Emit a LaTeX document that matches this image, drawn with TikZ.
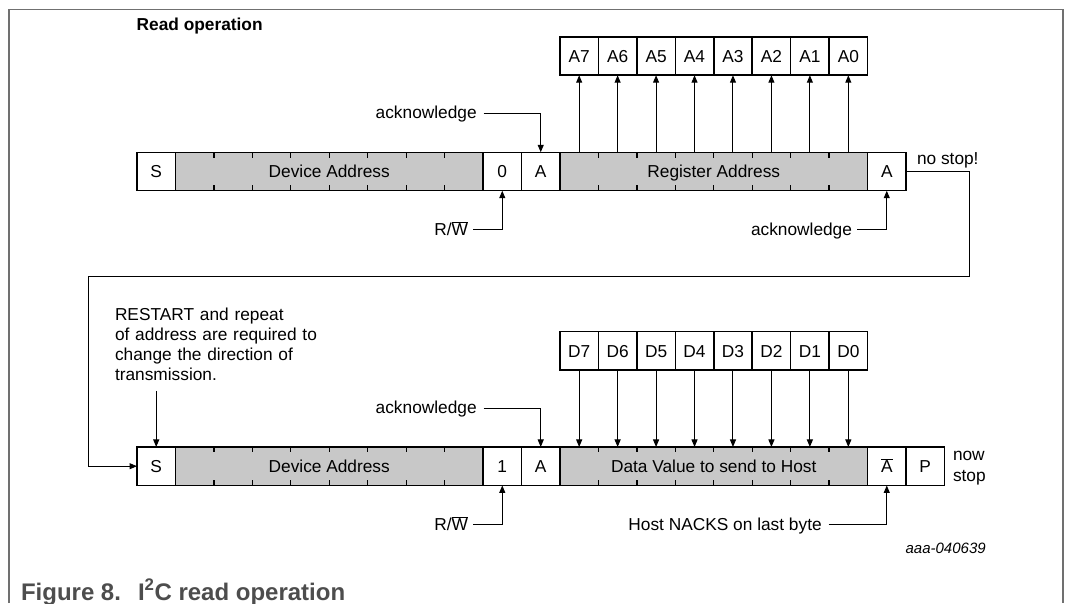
\documentclass[tikz,border=0pt]{standalone}
\usepackage{fontspec}
\setmainfont{Liberation Sans}
\usetikzlibrary{arrows.meta,calc}
\definecolor{fieldgray}{HTML}{C8C8C8}
\definecolor{framegray}{HTML}{707070}
\definecolor{capgray}{HTML}{4D4D4D}
\newcommand{\lbl}{\fontsize{17.3}{20.3}\selectfont}
\newcommand{\ovl}[1]{$\overline{\hbox{#1}}$}
\def\w{38.45}
\def\xo{137}
\begin{document}
\begin{tikzpicture}[x=1pt,y=-1pt,
  every node/.style={inner sep=0pt, outer sep=0pt, font=\lbl},
  cell/.style={draw, line width=1.5pt, fill=white, minimum width=38.45pt,
    minimum height=38.45pt, text height=12.4pt, text depth=0pt, anchor=west},
  field/.style={cell, fill=fieldgray, minimum width=307.6pt},
  tick/.style={line width=1.3pt},
  arr/.style={line width=1pt, -{Triangle[length=7.5pt,width=6pt]}},
]
\useasboundingbox (0,0) rectangle (1071,603);

% outer frame, open at the bottom
\draw[framegray, line width=1.3pt] (9,603) -- (9,9.3) -- (1063,9.3) -- (1063,603);

\node[anchor=base west, font=\lbl\bfseries] (title) at (136.7,30.5) {Read operation};

% ---- first transfer: device address + register address ----
\node[cell]  (S1)   at (\xo,171.5) {S};
\node[field] (DA1)  at ({\xo+\w},171.5) {Device Address};
\node[cell]  (RW1)  at ({\xo+9*\w},171.5) {0};
\node[cell]  (AK1)  at ({\xo+10*\w},171.5) {A};
\node[field] (REG1) at ({\xo+11*\w},171.5) {Register Address};
\node[cell]  (AK1b) at ({\xo+19*\w},171.5) {A};

\foreach \b [count=\i from 0] in {7,6,...,0}
  \node[cell] (a\b) at ({\xo+(11+\i)*\w},56) {A\b};
\foreach \b in {7,6,...,0}
  \draw[arr] (a\b.south |- REG1.north) -- (a\b.south);

\node[anchor=base east] (ack1t) at (476.7,118.3) {acknowledge};
\draw[arr] ($(ack1t.base east)+(7,-5)$) -| (AK1.north);
\node[anchor=base east] (rw1t) at (468,235) {R/\ovl{W}};
\draw[arr] ($(rw1t.base east)+(5,-5.7)$) -| (RW1.south);
\node[anchor=base east] (ack1bt) at (852,235) {acknowledge};
\draw[arr] ($(ack1bt.base east)+(5,-5.7)$) -| (AK1b.south);
\node[anchor=base west] (nostop) at (917,164) {no stop!};

% ---- second transfer: restart + data read ----
\node[cell]  (S2)    at (\xo,466.2) {S};
\node[field] (DA2)   at ({\xo+\w},466.2) {Device Address};
\node[cell]  (RW2)   at ({\xo+9*\w},466.2) {1};
\node[cell]  (AK2)   at ({\xo+10*\w},466.2) {A};
\node[field] (DATA2) at ({\xo+11*\w},466.2) {Data Value to send to Host};
\node[cell]  (NA2)   at ({\xo+19*\w},466.2) {\ovl{A}};
\node[cell]  (P2)    at ({\xo+20*\w},466.2) {P};

\foreach \b [count=\i from 0] in {7,6,...,0}
  \node[cell] (d\b) at ({\xo+(11+\i)*\w},350.8) {D\b};
\foreach \b in {7,6,...,0}
  \draw[arr] (d\b.south) -- (d\b.south |- DATA2.north);

% bit ticks on the shaded fields
\foreach \n in {DA1,REG1,DA2,DATA2}
  \foreach \k in {1,...,7} {
    \draw[tick] ($(\n.north west)+(\k*\w,0)$) -- ++(0,5.5);
    \draw[tick] ($(\n.south west)+(\k*\w,0)$) -- ++(0,-5.5);
  }

% no stop: wrap around into the repeated start
\coordinate (wrapR) at (969,276.7);
\coordinate (wrapL) at (88,276.7);
\draw[arr] (AK1b.east) -| (wrapR) -- (wrapL) |- (S2.west);

\node[anchor=base west, text width=240pt, align=left] (restart) at (115,320)
  {RESTART and repeat\\of address are required to\\change the direction of\\transmission.};
\coordinate (rsfoot) at ($(S2.north)+(0,-56)$);
\draw[arr] (rsfoot) -- (S2.north);

\node[anchor=base east] (ack2t) at (476.7,413.3) {acknowledge};
\draw[arr] ($(ack2t.base east)+(7,-5)$) -| (AK2.north);
\node[anchor=base east] (rw2t) at (468,530) {R/\ovl{W}};
\draw[arr] ($(rw2t.base east)+(5,-5.7)$) -| (RW2.south);
\node[anchor=base east] (hostt) at (821.7,530) {Host NACKS on last byte};
\draw[arr] ($(hostt.base east)+(7,-5.7)$) -| (NA2.south);
\node[anchor=base west, text width=60pt, align=left] (nowstop) at (953,460.7) {now\\stop};

\node[anchor=base east, font=\fontsize{15}{18}\selectfont\itshape] (docid) at (985.7,553.3) {aaa-040639};

\node[anchor=base west, font=\fontsize{24}{28}\selectfont\bfseries, text=capgray] (caption) at (21,600)
  {Figure 8.\hspace{17pt}I\textsuperscript{2}C read operation};
\end{tikzpicture}
\end{document}
